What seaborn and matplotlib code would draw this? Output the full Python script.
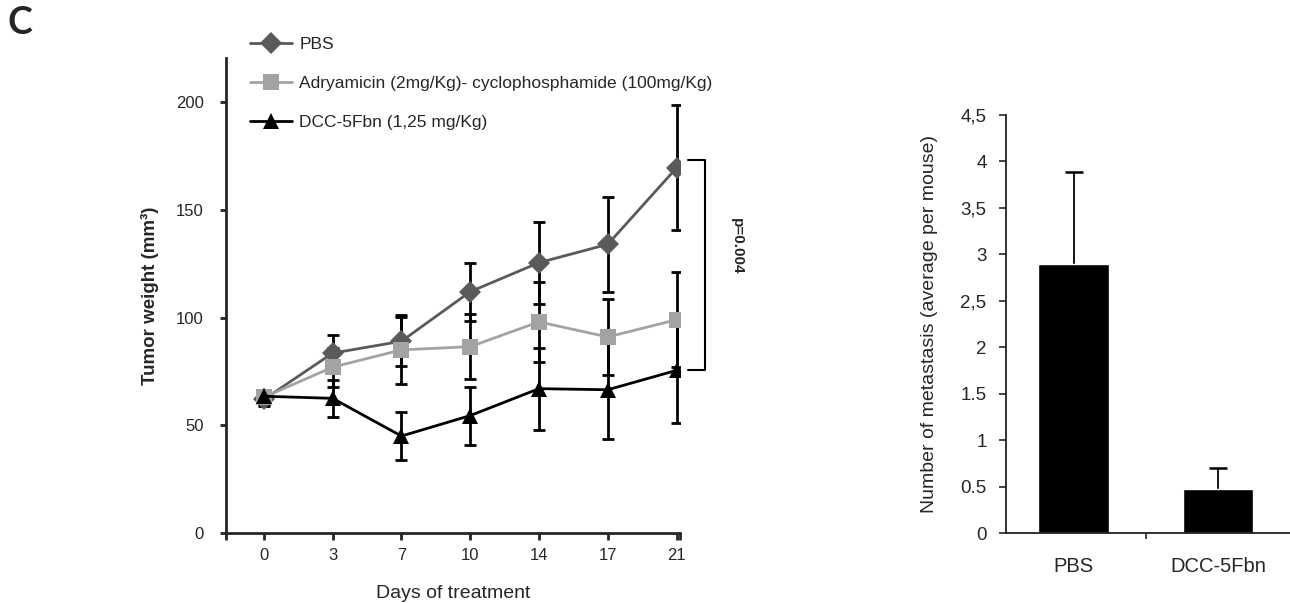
import pandas as pd
import matplotlib
matplotlib.use("Agg")
import matplotlib.pyplot as plt
from matplotlib.lines import Line2D
import seaborn as sns

# ================== data ==================

days = ["0", "3", "7", "10", "14", "17", "21"]

pbs_mean = [62, 83.5, 89, 112, 125.5, 134, 169.5]
pbs_err = [3, 8.5, 11.5, 13.5, 19, 22, 29]

adr_mean = [63, 77, 85, 86.5, 98, 91, 99]
adr_err = [3, 9, 16, 15, 18.5, 17.5, 22]

dcc_mean = [63.5, 62.5, 45, 54.5, 67, 66.5, 75.5]
dcc_err = [3, 8.5, 11, 13.5, 19, 23, 24.5]

series_names = ["PBS",
                "Adryamicin (2mg/Kg)- cyclophosphamide (100mg/Kg)",
                "DCC-5Fbn (1,25 mg/Kg)"]

bar_groups = ["PBS", "DCC-5Fbn"]
bar_values = [2.9, 0.47]
bar_err = [0.99, 0.23]
bar_ticks = [0, 0.5, 1, 1.5, 2, 2.5, 3, 3.5, 4, 4.5]
bar_tick_labels = ["0", "0.5", "1", "1.5", "2", "2,5", "3", "3,5", "4", "4,5"]

# ================== style ==================

sns.set_style("ticks")
plt.rcParams["font.family"] = ["Liberation Sans", "DejaVu Sans"]

fig = plt.figure(figsize=(12.9, 6.03), dpi=100)

# ================== left panel: tumor weight ==================

ax = fig.add_axes([226 / 1290, 1 - 533 / 603, 454 / 1290, 475 / 603])

pos = list(range(len(days)))
styles = [
    (pbs_mean, pbs_err, "#5a5a5a", "D", 11),
    (adr_mean, adr_err, "#a3a3a3", "s", 11),
    (dcc_mean, dcc_err, "black", "^", 11),
]

handles = []
for (mean, err, col, mk, ms), name in zip(styles, series_names):
    ax.errorbar(pos, mean, yerr=err, fmt="none", ecolor="black",
                elinewidth=2, capsize=4.5, capthick=2, zorder=2)
    df = pd.DataFrame({"pos": pos, "value": mean})
    sns.lineplot(data=df, x="pos", y="value", ax=ax, color=col, lw=2,
                 marker=mk, markersize=ms, markeredgewidth=0, zorder=3)
    handles.append(Line2D([], [], color=col, lw=2, marker=mk,
                          markersize=ms, markeredgewidth=0))

ax.set_xlim(-0.55, 6.05)
ax.set_ylim(0, 220.5)
ax.set_xticks(pos)
ax.set_xticklabels(days, fontsize=12)
ax.set_xticks([-0.55, 6.05], minor=True)
ax.set_yticks([0, 50, 100, 150, 200])
ax.set_yticklabels(["0", "50", "100", "150", "200"], fontsize=12)
ax.tick_params(axis="x", which="both", length=5, width=2, pad=6)
ax.tick_params(axis="y", length=4, width=2, pad=12)
ax.set_xlabel("Days of treatment", fontsize=14, labelpad=16)
ax.set_ylabel("Tumor weight (mm³)", fontsize=13.5, fontweight="bold",
              labelpad=12)
for s in ["left", "bottom"]:
    ax.spines[s].set_linewidth(2)
sns.despine(ax=ax)

ax.legend(handles, series_names, loc="upper left",
          bbox_to_anchor=(250 / 1290, 1 - 37 / 603),
          bbox_transform=fig.transFigure, frameon=False, fontsize=12.5,
          handlelength=2.4, handletextpad=0.45, labelspacing=1.37,
          borderpad=0, borderaxespad=0)

# significance bracket between PBS and DCC at day 21
bx0, bx1 = 6.17, 6.42
ax.plot([bx0, bx1, bx1, bx0], [173, 173, 75.7, 75.7], color="black",
        lw=1.5, clip_on=False)
ax.text(6.88, 133, "p=0.004", rotation=270, ha="center", va="center",
        fontsize=11, fontweight="bold")

fig.text(0.006, 0.99, "C", fontsize=27, fontweight="bold",
         family=["Lato", "DejaVu Sans"], va="top", ha="left")

# ================== right panel: metastasis ==================

ax2 = fig.add_axes([1006 / 1290, 1 - 533 / 603, 284 / 1290, 418 / 603])
sns.barplot(x=bar_groups, y=bar_values, color="black", width=0.49,
            saturation=1, ax=ax2, zorder=2)
eb = ax2.errorbar([0, 1], bar_values, yerr=[[0, 0], bar_err], fmt="none",
                  ecolor="black", elinewidth=1.3, capsize=6.5, capthick=1.8,
                  zorder=1)
eb[1][0].set_visible(False)
ax2.set_xlim(-0.47, 1.5)
ax2.set_ylim(0, 4.5)
ax2.set_yticks(bar_ticks)
ax2.set_yticklabels(bar_tick_labels, fontsize=13.5)
ax2.set_xticks([0.5], minor=True)
ax2.tick_params(axis="x", which="major", length=0, pad=17, labelsize=14.5)
ax2.tick_params(axis="x", which="minor", length=4, width=1.2)
ax2.tick_params(axis="y", length=5, width=1.2, pad=9)
ax2.set_ylabel("Number of metastasis (average per mouse)", fontsize=14,
               labelpad=16)
for s in ["left", "bottom"]:
    ax2.spines[s].set_linewidth(1.3)
    ax2.spines[s].set_color("#222222")
sns.despine(ax=ax2)

fig.savefig("out.png", dpi=100)
